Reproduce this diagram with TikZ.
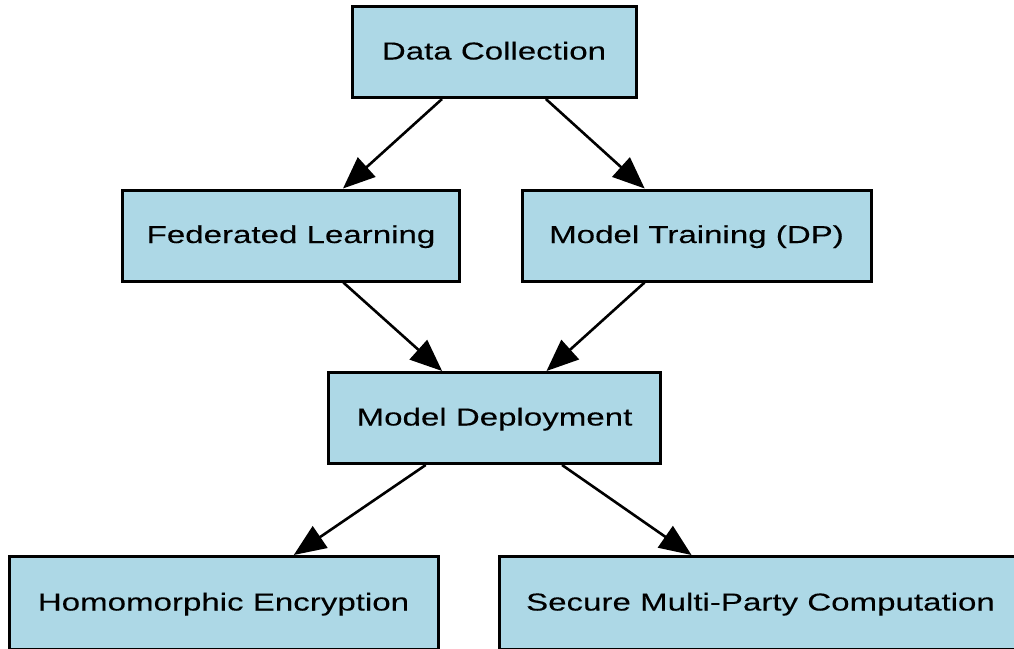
\documentclass[tikz,border=0pt]{standalone}
\usepackage{fontspec}
\setmainfont{Liberation Sans}[FakeStretch=1.35,FakeBold=0.15]
\usepackage{tikz}
\usetikzlibrary{arrows.meta,positioning}
\definecolor{boxblue}{RGB}{173,216,230}

\begin{document}
\begin{tikzpicture}[
    x=1pt, y=-1pt,
    block/.style={rectangle, draw, line width=3pt, fill=boxblue, minimum height=91pt, inner xsep=0pt,
                  font=\fontsize{24.5}{29}\selectfont, text height=19pt, text depth=4pt},
    arrow/.style={-{Triangle[length=32pt,width=26pt]}, line width=2.6pt}
]
    \useasboundingbox (0,0) rectangle (1014,648);
    \clip (0,0) rectangle (1014,648);

    \node[block, minimum width=284pt] (collect) at (494,52) {Data Collection};
    \node[block, minimum width=337pt] (fedlearn) at (291,235.5) {Federated Learning};
    \node[block, minimum width=349pt] (dptrain) at (696.5,235.5) {Model Training (DP)};
    \node[block, minimum width=332pt] (deploy) at (494.5,418) {Model Deployment};

    % Privacy techniques (run past the page edge)
    \node[block, minimum width=429pt, minimum height=93pt] (homenc) at (223.5,603) {Homomorphic Encryption};
    \node[block, minimum width=523pt, minimum height=93pt] (smpc) at (760.5,603) {Secure Multi-Party Computation};

    \draw[arrow] (collect) -- (fedlearn);
    \draw[arrow] (collect) -- (dptrain);
    \draw[arrow] (fedlearn) -- (deploy);
    \draw[arrow] (dptrain) -- (deploy);
    \draw[arrow] (deploy) -- (homenc);
    \draw[arrow] (deploy) -- (smpc);
\end{tikzpicture}
\end{document}
